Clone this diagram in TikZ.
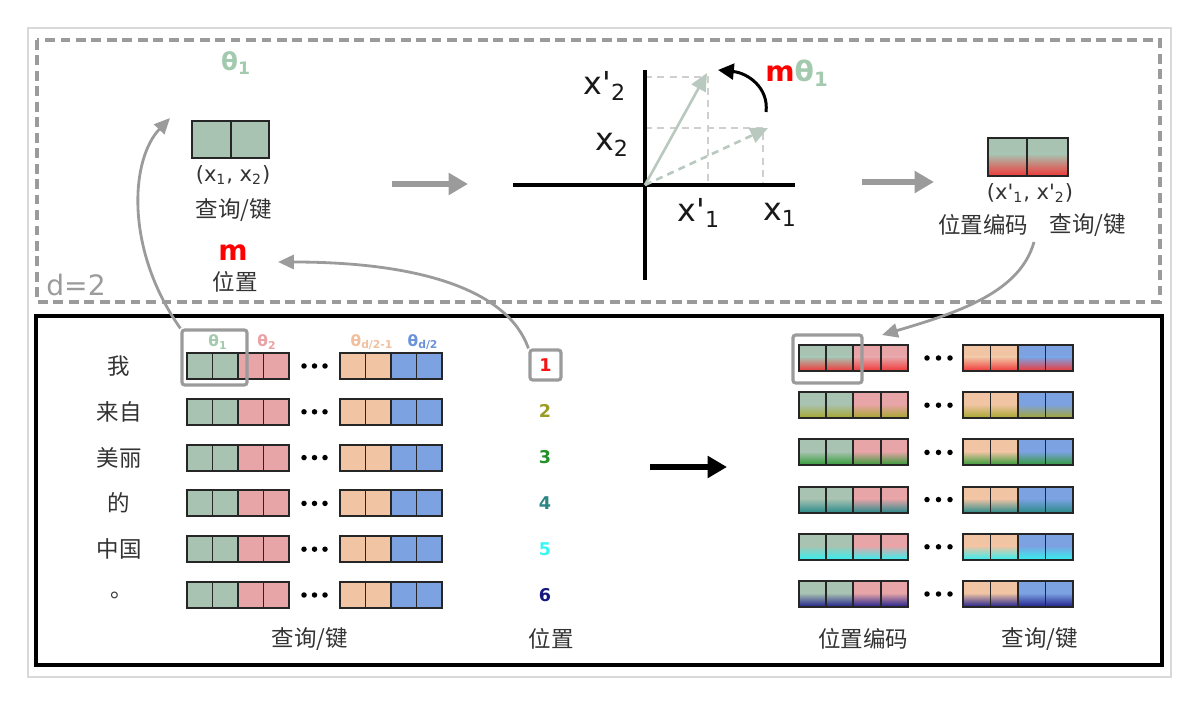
\documentclass[tikz,border=0pt]{standalone}
\usepackage{fontspec}
\setmainfont{DejaVu Sans}
\newfontfamily\cjk{Noto Sans CJK SC}
\usetikzlibrary{arrows.meta}
\definecolor{sage}{HTML}{A8C3B1}
\definecolor{pinkc}{HTML}{E8A5A8}
\definecolor{peach}{HTML}{F1C4A4}
\definecolor{bluec}{HTML}{7CA2E2}
\definecolor{thsage}{HTML}{A3C9AE}
\definecolor{thpink}{HTML}{EBA0A4}
\definecolor{thpeach}{HTML}{F0C09E}
\definecolor{thblue}{HTML}{6C92DA}
\definecolor{gline}{HTML}{9B9B9B}
\definecolor{guide}{HTML}{CFCFCF}
\definecolor{vec}{HTML}{B9C9BF}
\definecolor{txt}{HTML}{333333}
\definecolor{pa}{HTML}{F03838}
\definecolor{pb}{HTML}{A6A62C}
\definecolor{pc}{HTML}{2F9A34}
\definecolor{pd}{HTML}{2A8A8A}
\definecolor{pe}{HTML}{34F0F0}
\definecolor{pf}{HTML}{1E1E8A}
\definecolor{na}{HTML}{F41414}
\definecolor{nb}{HTML}{9C9C24}
\definecolor{nc}{HTML}{23902A}
\definecolor{nd}{HTML}{2A8585}
\definecolor{ne}{HTML}{3AF5F5}
\definecolor{nf}{HTML}{161680}
\begin{document}
\begin{tikzpicture}[x=0.02cm,y=-0.02cm,
  cellline/.style={draw=black!85,line width=1.1pt},
  zh/.style={font=\cjk\fontsize{12.8}{14}\selectfont, text=txt, inner sep=0pt},
  axlab/.style={font=\fontsize{18}{20}\selectfont, text=black!90, inner sep=0pt},
  garrow/.style={draw=gline, line width=1.6pt, -{Triangle[length=9pt,width=8pt]}},
  fatarrow/.style={line width=3.4pt, -{Triangle[length=11pt,width=12pt]}},
  hlbox/.style={draw=gline, line width=1.8pt, rounded corners=1.5pt, inner sep=0pt},
  num/.style={font=\bfseries\fontsize{10}{12}\selectfont, inner sep=0pt},
  thlab/.style={font=\bfseries\fontsize{8.8}{10}\selectfont, inner sep=0pt},
  guideline/.style={draw=guide, line width=1.2pt, dash pattern=on 4pt off 3pt},
]
\useasboundingbox (0,0) rectangle (1200,705);
% frames
\draw[black!15, line width=0.6pt] (28,28) rectangle (1171,677);
\draw[gline, line width=2.2pt, dash pattern=on 5.6pt off 3.2pt] (37,40) rectangle (1160,302);
\draw[black, line width=2.4pt] (36,316) rectangle (1162,665);

% ---------- top-left ----------
\node[font=\bfseries\fontsize{14}{16}\selectfont, text=thsage, inner sep=0pt] (th1top) at (236,63) {θ\textsubscript{1}};
\draw[cellline, fill=sage] (192,121) rectangle (231,158);
\draw[cellline, fill=sage] (231,121) rectangle (269,158);
\node[font=\fontsize{12}{14}\selectfont, text=txt, inner sep=0pt] (xy) at (233,175) {(x\textsubscript{1}, x\textsubscript{2})};
\node[zh] (qk1) at (234,210) {查询/键};
\node[font=\bfseries\fontsize{16}{18}\selectfont, text=red, inner sep=0pt] (mnode) at (233,253) {m};
\node[zh] (pos1) at (235,282) {位置};
\node[font=\fontsize{16}{18}\selectfont, text=gline, inner sep=0pt] (dlab) at (76,285) {d=2};

% thick arrows
\coordinate (a1s) at (392,184); \coordinate (a1e) at (468,184);
\draw[fatarrow, color=gline] (a1s) -- (a1e);
\coordinate (a2s) at (862,182); \coordinate (a2e) at (934,182);
\draw[fatarrow, color=gline] (a2s) -- (a2e);

% ---------- axes ----------
\coordinate (O) at (645,185);
\coordinate (v1) at (707,73);
\coordinate (v2) at (768,128);
\draw[guideline] (645,77) -- (708,77) -- (708,185);
\draw[guideline] (645,128) -- (763,128) -- (763,185);
\draw[line width=2.8pt] (513,185) -- (795,185);
\draw[line width=2.8pt] (645,70) -- (645,280);
\draw[draw=vec, line width=1.5pt, -{Triangle[length=10pt,width=9pt]}] (O) -- (v1);
\draw[draw=vec, line width=1.5pt, dash pattern=on 4pt off 3pt, -{Triangle[length=10pt,width=9pt]}] (O) -- (v2);
\node[axlab] (xp2) at (605,86) {x\textquotesingle\textsubscript{2}};
\node[axlab] (x2) at (612,145) {x\textsubscript{2}};
\node[axlab] (xp1) at (699,213) {x\textquotesingle\textsubscript{1}};
\node[axlab] (x1) at (780,215) {x\textsubscript{1}};
\coordinate (rs) at (766,112); \coordinate (re) at (718,70);
\draw[line width=1.7pt, -{Triangle[length=9pt,width=9pt]}] (rs) .. controls (769,88) and (748,73) .. (re);
\node[font=\bfseries\fontsize{16}{18}\selectfont, inner sep=0pt] (mth) at (797,73) {\textcolor{red}{m}\textcolor{thsage}{θ\textsubscript{1}}};

% ---------- top-right ----------
\foreach \xa/\xb in {988/1027,1027/1068} {
  \fill[sage] (\xa,138) rectangle (\xb,176);
  \shade[top color=sage, bottom color=pa] (\xa,154) rectangle (\xb,176);
  \draw[cellline] (\xa,138) rectangle (\xb,176);
}
\node[font=\fontsize{12}{14}\selectfont, text=txt, inner sep=0pt] (xyp) at (1030,193) {(x\textquotesingle\textsubscript{1}, x\textquotesingle\textsubscript{2})};
\node[zh] (pe1) at (983,225) {位置编码};
\node[zh] (qk2) at (1088,225) {查询/键};

% ---------- bottom-left table ----------
\foreach \ri in {0,...,5} {
  \pgfmathsetmacro\yc{366+45.8*\ri}
  \foreach \j/\bc in {0/sage,1/sage,2/pinkc,3/pinkc} {
    \draw[cellline, fill=\bc] (187+25.5*\j,\yc-13) rectangle ++(25.5,26);
  }
  \foreach \j/\bc in {0/peach,1/peach,2/bluec,3/bluec} {
    \draw[cellline, fill=\bc] (340+25.5*\j,\yc-13) rectangle ++(25.5,26);
  }
  \foreach \k in {0,1,2} \fill (304+10.5*\k,\yc) circle[radius=0.055cm];
}
\node[thlab, text=thsage] (h1) at (218,342) {θ\textsubscript{1}};
\node[thlab, text=thpink] (h2) at (267,342) {θ\textsubscript{2}};
\node[thlab, text=thpeach] (h3) at (372,342) {θ\textsubscript{d/2-1}};
\node[thlab, text=thblue] (h4) at (423,342) {θ\textsubscript{d/2}};
\node[hlbox, minimum width=1.3cm, minimum height=1.1cm] (hlL) at (214.5,357.5) {};

\node[zh] (w1) at (119,366) {我};
\node[zh] (w2) at (119,412) {来自};
\node[zh] (w3) at (119,458) {美丽};
\node[zh] (w4) at (119,503) {的};
\node[zh] (w5) at (119,549) {中国};
\node[zh] (w6) at (122,595) {。};

% numbers
\node[hlbox, minimum width=0.62cm, minimum height=0.6cm] (n1box) at (545.5,365) {};
\node[num, text=na] (n1) at (545.5,365) {1};
\node[num, text=nb] (n2) at (545,411) {2};
\node[num, text=nc] (n3) at (545,457) {3};
\node[num, text=nd] (n4) at (545,503) {4};
\node[num, text=ne] (n5) at (545,549) {5};
\node[num, text=nf] (n6) at (545,595) {6};

% big black arrow
\coordinate (b1s) at (650,467); \coordinate (b1e) at (727,467);
\draw[fatarrow, color=black] (b1s) -- (b1e);

% ---------- bottom-right table ----------
\foreach \ri/\pcol in {0/pa,1/pb,2/pc,3/pd,4/pe,5/pf} {
  \pgfmathsetmacro\yc{358+47.2*\ri}
  \foreach \j/\bc in {0/sage,1/sage,2/pinkc,3/pinkc} {
    \fill[\bc] (799+27.2*\j,\yc-13) rectangle ++(27.2,26);
    \shade[top color=\bc, bottom color=\pcol] (799+27.2*\j,\yc-1) rectangle ++(27.2,14);
    \draw[cellline] (799+27.2*\j,\yc-13) rectangle ++(27.2,26);
  }
  \foreach \j/\bc in {0/peach,1/peach,2/bluec,3/bluec} {
    \fill[\bc] (963+27.5*\j,\yc-13) rectangle ++(27.5,26);
    \shade[top color=\bc, bottom color=\pcol] (963+27.5*\j,\yc-1) rectangle ++(27.5,14);
    \draw[cellline] (963+27.5*\j,\yc-13) rectangle ++(27.5,26);
  }
  \foreach \k in {0,1,2} \fill (927+11.5*\k,\yc) circle[radius=0.055cm];
}
\node[hlbox, minimum width=1.38cm, minimum height=0.96cm] (hlR) at (827.5,359) {};

% bottom labels
\node[zh] (bq1) at (310,639) {查询/键};
\node[zh] (bp1) at (551,639) {位置};
\node[zh] (bpe) at (863,639) {位置编码};
\node[zh] (bq2) at (1040,639) {查询/键};

% ---------- gray curved connectors ----------
\coordinate (thA) at (170,118);
\draw[garrow] (hlL.north west) .. controls (125,250) and (130,160) .. (thA);
\coordinate (posA) at (278,262);
\draw[garrow] (n1box.north west) .. controls (508,290) and (420,262) .. (posA);
\coordinate (rs2) at (1034,242);
\coordinate (re2) at (882,335);
\draw[garrow] (rs2) .. controls (1020,292) and (960,312) .. (re2);
\end{tikzpicture}
\end{document}
